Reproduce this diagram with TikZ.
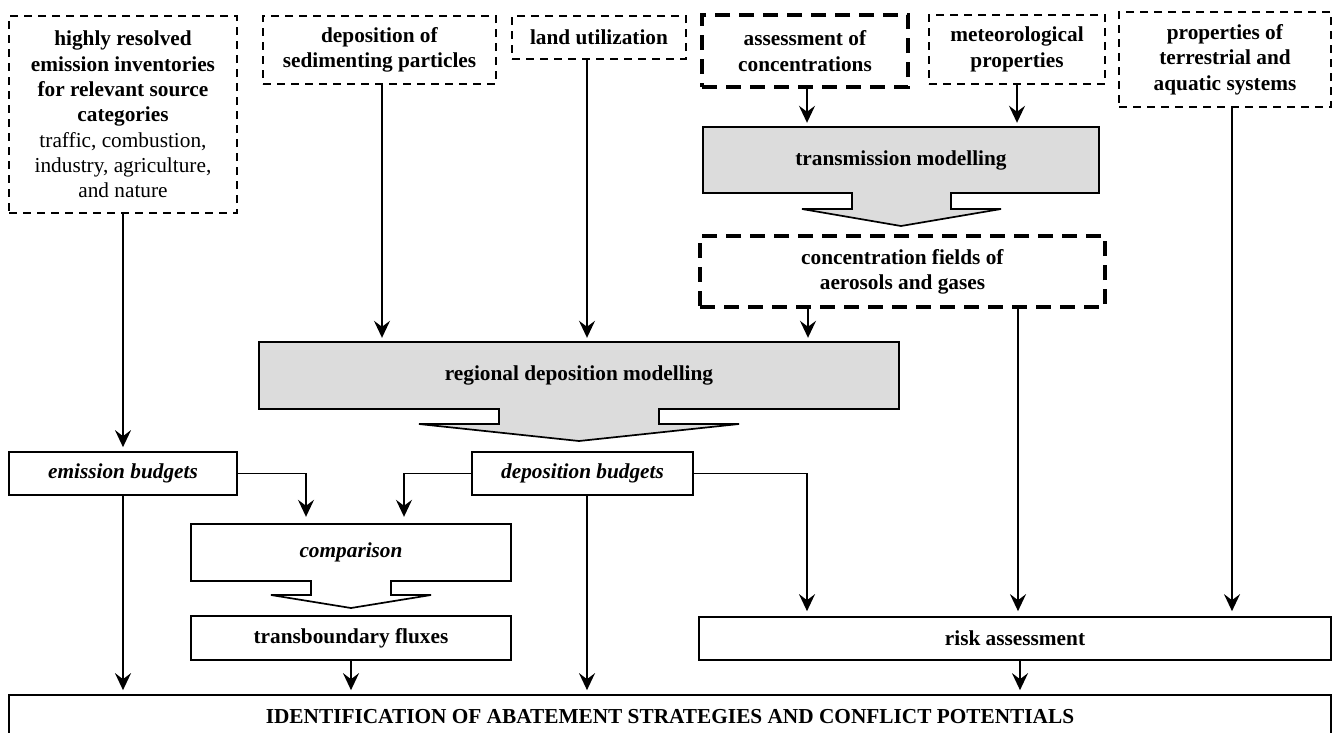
\documentclass[tikz,border=0pt]{standalone}
\usepackage{fontspec}
\setmainfont{Liberation Serif}
\usetikzlibrary{arrows.meta}
\definecolor{blockgray}{HTML}{DCDCDC}
\newcommand\diagfont{\fontsize{21.3}{25.3}\selectfont}
\tikzset{
  thindash/.style={draw, line width=1.6pt, dash pattern=on 8pt off 6pt, inner sep=0pt, align=center, font=\diagfont},
  thickdash/.style={draw, line width=3.6pt, dash pattern=on 15pt off 9pt, inner sep=0pt, align=center, font=\diagfont},
  plainbox/.style={draw, line width=1.7pt, inner sep=0pt, align=center, font=\diagfont},
  lbl/.style={inner sep=0pt, align=center, font=\diagfont},
  blockarrow/.style={draw, line width=1.7pt, fill=blockgray, line join=miter},
  arr/.style={line width=1.9pt, -{Stealth[length=17pt,width=16pt,inset=6pt]}, shorten >=4pt},
}
\begin{document}
\begin{tikzpicture}[x=1pt,y=-1pt]
\useasboundingbox (0,0) rectangle (1333,732);
\clip (0,0) rectangle (1333,732);

% top input boxes
\node[thindash, minimum width=228pt, minimum height=197pt] (src) at (123,114.5)
  {\textbf{highly resolved}\\\textbf{emission inventories}\\\textbf{for relevant source}\\\textbf{categories}\\traffic, combustion,\\industry, agriculture,\\and nature};
\node[thindash, minimum width=233pt, minimum height=68pt] (sed) at (379.5,50)
  {\textbf{deposition of}\\\textbf{sedimenting particles}};
\node[thindash, minimum width=174pt, minimum height=43pt] (land) at (599,37.5)
  {\textbf{land utilization}};
\node[thickdash, minimum width=206pt, minimum height=72pt] (assess) at (805,51)
  {\textbf{assessment of}\\\textbf{concentrations}};
\node[thindash, minimum width=176pt, minimum height=69pt] (meteo) at (1017,49.5)
  {\textbf{meteorological}\\\textbf{properties}};
\node[thindash, minimum width=212pt, minimum height=95pt] (prop) at (1225,59.5)
  {\textbf{properties of}\\\textbf{terrestrial and}\\\textbf{aquatic systems}};

% transmission modelling block arrow
\path[blockarrow] (703,127) -- (1099,127) -- (1099,193) -- (951,193) -- (951,209) -- (1001,209)
  -- (901,226) -- (802,209) -- (852,209) -- (852,193) -- (703,193) -- cycle;
\node[lbl, minimum width=396pt, minimum height=66pt] (trans) at (901,160) {\textbf{transmission modelling}};

\node[thickdash, minimum width=405pt, minimum height=71pt] (conc) at (902.5,271.5)
  {\textbf{concentration fields of}\\\textbf{aerosols and gases}};

% regional deposition modelling block arrow
\path[blockarrow] (259,342) -- (899,342) -- (899,409) -- (659,409) -- (659,424) -- (739,424)
  -- (579,441) -- (419,424) -- (499,424) -- (499,409) -- (259,409) -- cycle;
\node[lbl, minimum width=640pt, minimum height=67pt] (regional) at (579,375.5) {\textbf{regional deposition modelling}};

% budgets
\node[plainbox, minimum width=228pt, minimum height=43pt] (emis) at (123,473.5) {\textbf{\textit{emission budgets}}};
\node[plainbox, minimum width=221pt, minimum height=43pt] (depb) at (582.5,473.5) {\textbf{\textit{deposition budgets}}};

% comparison block arrow (white)
\path[blockarrow, fill=white] (191,524) -- (511,524) -- (511,581) -- (391,581) -- (391,595) -- (431,595)
  -- (351,608) -- (271,595) -- (311,595) -- (311,581) -- (191,581) -- cycle;
\node[lbl, minimum width=320pt, minimum height=57pt] (comp) at (351,552.5) {\textbf{\textit{comparison}}};

\node[plainbox, minimum width=320pt, minimum height=44pt] (flux) at (351,638) {\textbf{transboundary fluxes}};
\node[plainbox, minimum width=632pt, minimum height=43pt] (risk) at (1015,638.5) {\textbf{risk assessment}};

\node[plainbox, minimum width=1322pt, minimum height=43pt] (final) at (670,716.5)
  {\textbf{IDENTIFICATION OF ABATEMENT STRATEGIES AND CONFLICT POTENTIALS}};

% connectors
\draw[arr] (assess.south -| 807,0) -- (trans.north -| 807,0);
\draw[arr] (meteo.south -| 1017,0) -- (trans.north -| 1017,0);
\draw[arr] (sed.south -| 382,0) -- (regional.north -| 382,0);
\draw[arr] (land.south -| 587,0) -- (regional.north -| 587,0);
\draw[arr] (conc.south -| 808,0) -- (regional.north -| 808,0);
\draw[arr, shorten >=5pt] (conc.south -| 1018,0) -- (risk.north -| 1018,0);
\draw[arr, shorten >=5pt] (prop.south -| 1232,0) -- (risk.north -| 1232,0);
\draw[arr] (src.south) -- (emis.north);
\draw[arr, shorten >=7pt] (emis.east) -| (comp.north -| 306,0);
\draw[arr, shorten >=7pt] (depb.west) -| (comp.north -| 404,0);
\draw[arr, shorten >=5pt] (depb.east) -| (risk.north -| 807,0);
\draw[arr] (emis.south) -- (final.north -| 123,0);
\draw[arr] (flux.south) -- (final.north -| 351,0);
\draw[arr] (depb.south -| 587,0) -- (final.north -| 587,0);
\draw[arr] (risk.south -| 1020,0) -- (final.north -| 1020,0);
\end{tikzpicture}
\end{document}
